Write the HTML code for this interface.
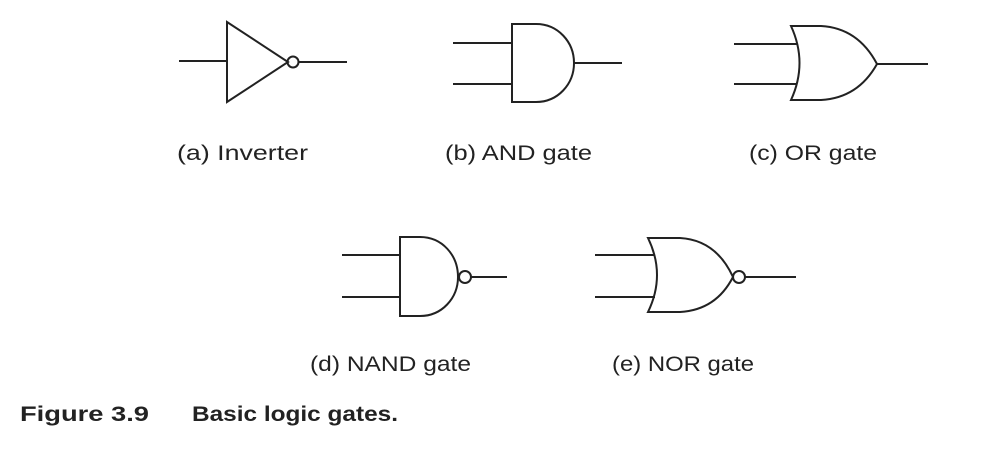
<!DOCTYPE html>
<html><head><style>html,body{margin:0;padding:0;background:#fff;}svg{display:block}</style></head>
<body>
<svg width="1006" height="456" viewBox="0 0 1006 456" xmlns="http://www.w3.org/2000/svg">
<g fill="none" stroke="#222" stroke-width="2">
<line x1="179" y1="61" x2="227" y2="61"/>
<polygon points="227,22 227,102 288,62"/>
<circle cx="293" cy="62" r="5.5"/>
<line x1="298.5" y1="62" x2="347" y2="62"/>
<line x1="453" y1="43" x2="512" y2="43"/>
<line x1="453" y1="84" x2="512" y2="84"/>
<path d="M512,24 L536,24 C558,24 574,42 574,63 C574,84 558,102 536,102 L512,102 Z"/>
<line x1="574" y1="63" x2="622" y2="63"/>
<line x1="734" y1="44" x2="797" y2="44"/>
<line x1="734" y1="84" x2="797" y2="84"/>
<path d="M791,26 Q808,63 791,100 L821,100 Q858,98 877,64 Q858,28 821,26 Z"/>
<line x1="877" y1="64" x2="928" y2="64"/>
<line x1="342" y1="255" x2="400" y2="255"/>
<line x1="342" y1="297" x2="400" y2="297"/>
<path d="M400,237 L420,237 C442,237 458,255 458,277 C458,298 442,316 420,316 L400,316 Z"/>
<circle cx="465" cy="277" r="6"/>
<line x1="471" y1="277" x2="507" y2="277"/>
<line x1="595" y1="255" x2="655" y2="255"/>
<line x1="595" y1="297" x2="655" y2="297"/>
<path d="M648,238 Q666,275 648,312 L680,312 Q716,310 733,277 Q716,240 680,238 Z"/>
<circle cx="739" cy="277" r="6"/>
<line x1="745" y1="277" x2="796" y2="277"/>
</g>
<g font-family="Liberation Sans, sans-serif" font-size="21" fill="#222">
<text x="177" y="160" textLength="131" lengthAdjust="spacingAndGlyphs">(a) Inverter</text>
<text x="445" y="160" textLength="147" lengthAdjust="spacingAndGlyphs">(b) AND gate</text>
<text x="749" y="160" textLength="128" lengthAdjust="spacingAndGlyphs">(c) OR gate</text>
<text x="310" y="371" textLength="161" lengthAdjust="spacingAndGlyphs">(d) NAND gate</text>
<text x="612" y="371" textLength="142" lengthAdjust="spacingAndGlyphs">(e) NOR gate</text>
<text x="20" y="421" font-weight="bold" textLength="129" lengthAdjust="spacingAndGlyphs">Figure 3.9</text>
<text x="192" y="421" font-weight="bold" textLength="206" lengthAdjust="spacingAndGlyphs">Basic logic gates.</text>
</g>
</svg>
</body></html>
